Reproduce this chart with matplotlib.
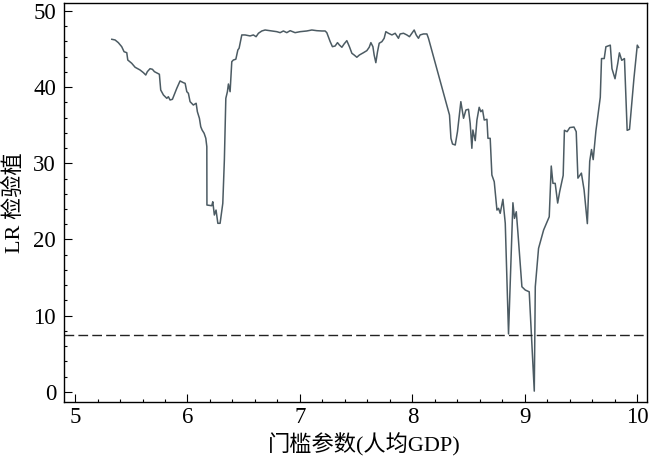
import matplotlib
matplotlib.use('Agg')
import matplotlib.pyplot as plt
from matplotlib.ticker import MultipleLocator

plt.rcParams['font.family'] = ['Liberation Serif', 'Noto Sans CJK SC']
plt.rcParams['axes.unicode_minus'] = False

# threshold parameter (人均GDP) and LR statistic
gdp = [5.327, 5.356, 5.385, 5.415, 5.436, 5.460, 5.469, 5.504, 5.534, 5.578,
       5.608, 5.629, 5.643, 5.667, 5.688, 5.706, 5.750, 5.762, 5.786, 5.816,
       5.830, 5.845, 5.866, 5.881, 5.905, 5.934, 5.964, 5.979, 5.994, 6.008,
       6.023, 6.052, 6.077, 6.088, 6.106, 6.118, 6.130, 6.148, 6.163, 6.172,
       6.173, 6.216, 6.225, 6.239, 6.254, 6.270, 6.290, 6.314, 6.328, 6.341,
       6.355, 6.364, 6.379, 6.394, 6.408, 6.430, 6.448, 6.459, 6.474, 6.483,
       6.512, 6.557, 6.586, 6.610, 6.631, 6.661, 6.690, 6.735, 6.794, 6.824,
       6.853, 6.883, 6.913, 6.957, 7.002, 7.061, 7.106, 7.150, 7.195, 7.224,
       7.239, 7.269, 7.289, 7.313, 7.334, 7.351, 7.373, 7.393, 7.417, 7.440,
       7.462, 7.482, 7.506, 7.529, 7.565, 7.595, 7.616, 7.631, 7.649, 7.660,
       7.675, 7.690, 7.705, 7.729, 7.749, 7.764, 7.787, 7.818, 7.847, 7.876,
       7.891, 7.921, 7.951, 7.974, 7.996, 8.016, 8.034, 8.054, 8.069, 8.099,
       8.129, 8.143, 8.330, 8.343, 8.357, 8.381, 8.401, 8.431, 8.455, 8.476,
       8.499, 8.514, 8.529, 8.538, 8.559, 8.574, 8.594, 8.609, 8.624, 8.639,
       8.663, 8.672, 8.692, 8.707, 8.728, 8.752, 8.766, 8.781, 8.805, 8.826,
       8.855, 8.894, 8.908, 8.924, 8.939, 8.974, 9.004, 9.039, 9.084, 9.093,
       9.122, 9.167, 9.217, 9.235, 9.250, 9.270, 9.292, 9.310, 9.341, 9.352,
       9.376, 9.400, 9.437, 9.457, 9.472, 9.503, 9.527, 9.556, 9.577, 9.593,
       9.608, 9.632, 9.671, 9.682, 9.706, 9.721, 9.760, 9.775, 9.802, 9.826,
       9.841, 9.862, 9.886, 9.910, 9.931, 9.970, 10.000, 10.012]
lr = [46.28, 46.19, 45.84, 45.31, 44.65, 44.52, 43.56, 43.13, 42.61, 42.25,
      41.90, 41.59, 42.03, 42.42, 42.34, 42.03, 41.69, 39.62, 38.97, 38.53,
      38.74, 38.31, 38.40, 38.97, 39.85, 40.81, 40.58, 40.50, 39.40, 39.19,
      38.09, 37.65, 37.88, 36.77, 35.91, 34.80, 34.37, 33.94, 33.28, 32.18,
      24.52, 24.43, 24.95, 23.21, 23.86, 22.12, 22.12, 24.74, 30.43, 38.53,
      39.40, 40.41, 39.40, 43.34, 43.56, 43.66, 44.88, 45.10, 46.19, 46.85,
      46.85, 46.72, 46.85, 46.62, 47.07, 47.37, 47.50, 47.41, 47.28, 47.15,
      47.37, 47.15, 47.41, 47.15, 47.28, 47.37, 47.50, 47.41, 47.37, 47.37,
      47.15, 45.97, 45.31, 45.40, 45.84, 45.53, 45.23, 45.67, 46.10, 45.31,
      44.44, 44.22, 43.92, 44.22, 44.52, 44.79, 45.23, 45.84, 45.31, 44.22,
      43.21, 44.65, 45.76, 45.97, 46.41, 47.28, 47.07, 46.85, 47.07, 46.41,
      46.98, 47.07, 46.85, 46.62, 47.07, 47.50, 46.85, 46.41, 46.85, 46.98,
      46.98, 46.41, 36.34, 33.28, 32.53, 32.40, 34.15, 38.09, 35.91, 37.00,
      37.09, 35.25, 31.97, 34.37, 32.97, 35.68, 37.35, 36.77, 37.00, 35.68,
      35.78, 33.28, 33.28, 28.46, 27.58, 23.86, 24.09, 23.43, 25.27, 22.12,
      7.60, 24.82, 22.77, 23.64, 20.80, 13.79, 13.36, 13.13, 0.09, 13.79,
      18.83, 21.24, 22.98, 29.64, 27.37, 27.37, 24.78, 26.28, 28.41, 34.33,
      34.15, 34.69, 34.76, 34.15, 28.05, 28.71, 26.50, 22.08, 30.26, 31.81,
      30.48, 34.24, 38.67, 43.75, 43.75, 45.30, 45.51, 42.42, 41.10, 43.08,
      44.50, 43.52, 43.75, 34.33, 34.46, 41.10, 45.51, 45.21]
critical = 7.5  # 5% critical value

fig = plt.figure(figsize=(6.5, 4.61), dpi=100)
ax = fig.add_axes([0.099, 0.1286, 0.897, 0.865])

ax.plot(gdp, lr, color='#4c5b63', lw=1.1)
ax.axhline(critical, color='#222222', lw=1.0, dashes=(7, 3))

ax.set_xlim(4.905, 10.09)
ax.set_ylim(-1.3, 51.05)
ax.xaxis.set_major_locator(MultipleLocator(1))
ax.xaxis.set_minor_locator(MultipleLocator(0.2))
ax.yaxis.set_major_locator(MultipleLocator(10))
ax.yaxis.set_minor_locator(MultipleLocator(2))
ax.tick_params(which='both', direction='in', top=False, right=False,
               labelsize=16.5, width=0.8)
ax.tick_params(which='major', length=6)
ax.tick_params(which='minor', length=2.5)
ax.tick_params(axis='y', pad=6)
for s in ax.spines.values():
    s.set_linewidth(1.0)

ax.set_xlabel('门槛参数(人均GDP)', fontsize=16)
ax.xaxis.set_label_coords(0.515, -0.078)
ax.set_ylabel('LR 检验植', fontsize=16, labelpad=6)

fig.savefig('out.png', dpi=100)
